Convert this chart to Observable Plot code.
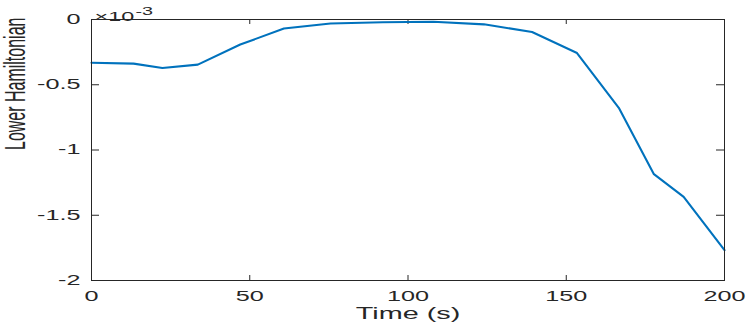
<!DOCTYPE html>
<html><head><meta charset="utf-8">
<script src="https://cdn.jsdelivr.net/npm/d3@7"></script>
<script src="https://cdn.jsdelivr.net/npm/@observablehq/plot@0.6"></script>
<style>html,body{margin:0;padding:0;background:#fff;} svg{display:block}</style>
</head><body><div id="chart"></div>
<script>
const time = [0, 13.3, 22.4, 33.6, 47, 60.8, 75.5, 92, 108, 124, 139.2, 153.4, 166.6, 177.7, 187.1, 200];
const hamiltonian = [-0.331, -0.338, -0.372, -0.346, -0.192, -0.069, -0.031, -0.021, -0.017, -0.037, -0.096, -0.257, -0.677, -1.185, -1.359, -1.767];
const xTicks = [0, 50, 100, 150, 200];
const yTicks = [0, -0.5, -1, -1.5, -2];
const xLabel = "Time (s)";
const yLabel = "Lower Hamiltonian";
const exponentBase = "×10";
const exponent = "-3";

const data = time.map((t, i) => ({t, h: hamiltonian[i]}));
const W = 747, H = 327, mL = 91, mR = 23, mT = 19, mB = 47;
const xDom = [0, 200], yDom = [-2, 0];
const pxX = (xDom[1] - xDom[0]) / (W - mL - mR);
const pxY = (yDom[1] - yDom[0]) / (H - mT - mB);
const ink = "#262626";

const chart = Plot.plot({
  width: W, height: H,
  marginLeft: mL, marginRight: mR, marginTop: mT, marginBottom: mB,
  style: {fontFamily: "'Liberation Sans', Arial, Helvetica, sans-serif", fontSize: "14px", color: ink, background: "#fff"},
  x: {domain: xDom},
  y: {domain: yDom},
  marks: [
    Plot.axisX(xTicks, {tickSize: 0, tickPadding: 11, label: null, tickFormat: d => String(d), fontSize: 14}),
    Plot.axisY(yTicks, {tickSize: 0, tickPadding: 11, label: null, tickFormat: d => String(d), fontSize: 14}),
    Plot.ruleX(xTicks, {x: d => d, y1: yDom[0], y2: yDom[0] + 5 * pxY, stroke: ink}),
    Plot.ruleX(xTicks, {x: d => d, y1: yDom[1], y2: yDom[1] - 5 * pxY, stroke: ink}),
    Plot.ruleY(yTicks, {y: d => d, x1: xDom[0], x2: xDom[0] + 8 * pxX, stroke: ink}),
    Plot.ruleY(yTicks, {y: d => d, x1: xDom[1], x2: xDom[1] - 8 * pxX, stroke: ink}),
    Plot.line(data, {x: "t", y: "h", stroke: "#0072BD", strokeWidth: 2.1}),
    Plot.frame({stroke: ink}),
    Plot.text([xLabel], {frameAnchor: "bottom", dy: 38.5, fontSize: 16, fill: ink}),
    Plot.text([yLabel], {frameAnchor: "left", dx: -76, rotate: -90, fontSize: 16, fill: ink}),
    Plot.text([exponentBase], {frameAnchor: "top-left", textAnchor: "start", dx: 3, dy: -8, fontSize: 13, fill: ink}),
    Plot.text([exponent], {frameAnchor: "top-left", textAnchor: "start", dx: 44, dy: -12.5, fontSize: 11, fill: ink})
  ]
});
document.getElementById("chart").appendChild(chart);

// the reference figure is stretched horizontally: widen every glyph about its anchor
const S = 1.8;
d3.select(chart).selectAll("text").each(function() {
  const t = this.getAttribute("transform");
  if (t && /^translate\(/.test(t)) {
    this.setAttribute("transform", t.replace(/^(translate\([^)]*\))/, `$1 scale(${S},1)`));
  } else {
    const x = +(this.getAttribute("x") || 0), y = +(this.getAttribute("y") || 0);
    this.removeAttribute("x"); this.removeAttribute("y");
    this.setAttribute("transform", `translate(${x},${y}) scale(${S},1)` + (t ? " " + t : ""));
  }
});
</script>
</body></html>
